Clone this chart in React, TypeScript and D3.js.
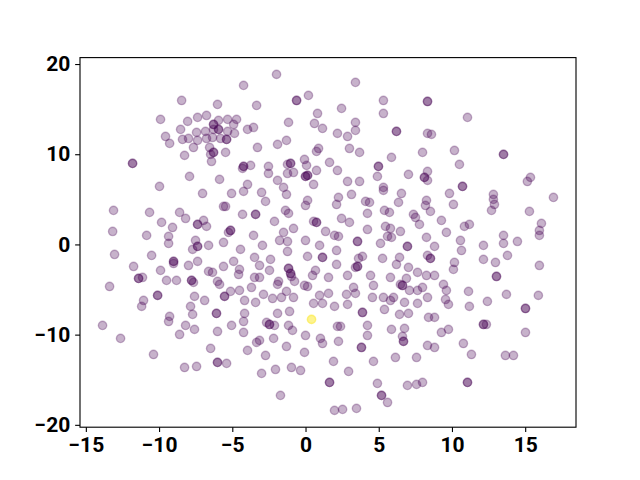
import React, { useRef, useEffect } from 'react';
import * as d3 from 'd3';

// points (class 0, purple); pairs repeated where the dot looks darker
const purplePoints: [number, number][] = [
  [-8.46, 15.96], [-9.9, 13.86], [-8.05, 13.64], [-7.37, 14.08], [-8.53, 12.75], [-9.56, 11.97],
  [-9.28, 11.2], [-7.99, 11.75], [-8.4, 11.64], [-7.44, 12.42], [-7.37, 11.53], [-7.65, 10.75],
  [-8.26, 9.87], [-11.81, 8.98], [-11.81, 8.98], [-7.92, 7.54], [-9.97, 6.43],

  [-1.98, 18.85], [-4.23, 17.63], [-0.61, 15.96], [-0.61, 15.96], [0.2, 16.52], [-6.01, 15.52],
  [-3.34, 15.41], [0.82, 14.52], [-6.76, 14.3], [0.61, 13.41], [1.16, 12.86], [-1.16, 13.53],
  [-5.94, 13.75], [-5.32, 13.86], [-4.71, 13.86], [-4.91, 13.3], [-6.28, 13.3], [-6.28, 13.3],
  [-5.94, 12.75], [-5.94, 12.75], [-5.32, 12.53], [-4.85, 12.31], [-6.28, 12.75], [-6.83, 12.53],
  [-6.76, 11.75], [-6.35, 11.86], [-5.8, 11.75], [-5.39, 11.64], [-5.39, 11.64], [-3.96, 12.75],
  [-3.55, 12.97], [-1.3, 11.53], [-1.91, 11.09], [-3.28, 10.75], [0.89, 10.64], [0.75, 10.31],
  [-6.55, 10.75], [-6.28, 10.2], [-6.28, 10.2], [-6.48, 9.98], [-5.46, 10.2], [-6.42, 9.2],
  [-3.75, 8.76], [-4.23, 8.65], [-4.23, 8.65], [-4.3, 8.43], [-2.53, 8.65], [-2.53, 7.87],
  [-1.23, 8.87], [-1.02, 8.98], [-1.02, 8.98], [-1.23, 7.87], [-0.82, 7.98], [-0.07, 9.42],
  [0.07, 8.76], [0.14, 7.65], [0.14, 7.65], [0.0, 7.54], [0.0, 7.54], [0.75, 8.2], [1.64, 9.09],
  [-5.87, 7.21], [-1.91, 7.1], [-3.96, 6.65], [0.55, 6.65], [-1.5, 6.32],

  [3.41, 17.96], [5.32, 15.96], [8.33, 15.85], [8.33, 15.85], [2.46, 15.08], [5.32, 14.52],
  [3.41, 13.53], [3.41, 12.64], [2.18, 12.31], [2.87, 11.97], [6.21, 12.53], [6.21, 12.53],
  [8.33, 12.31], [8.6, 12.2], [3.0, 10.64], [3.69, 10.2], [5.87, 9.65], [7.99, 10.2], [2.18, 8.2],
  [4.98, 8.65], [4.98, 8.65], [4.91, 7.54], [7.03, 7.76], [8.33, 8.09], [8.12, 7.43], [8.12, 7.43],
  [8.33, 7.1], [2.87, 6.98], [3.69, 6.98], [5.32, 6.32],

  [11.06, 14.08], [10.17, 10.42], [13.52, 9.98], [13.52, 9.98], [10.51, 8.87], [15.36, 7.43],
  [15.15, 6.98], [10.72, 6.43], [10.72, 6.43],

  [-7.03, 5.65], [-13.11, 3.77], [-10.65, 3.55], [-8.6, 3.55], [-8.19, 2.88], [-9.83, 2.44],
  [-9.08, 1.88], [-7.37, 2.22], [-7.37, 2.22], [-13.17, 1.44], [-10.85, 1.0], [-9.35, 0.89],
  [-9.35, 0.11], [-7.51, 0.44], [-7.37, -0.22], [-7.37, -0.22], [-7.71, -0.55], [-6.62, -0.11],
  [-13.04, -1.11], [-10.51, -1.22], [-9.01, -1.88], [-9.01, -1.88], [-9.01, -2.11], [-7.99, -2.33],
  [-7.37, -1.88], [-11.74, -2.44], [-9.9, -2.88], [-11.4, -3.77], [-11.4, -3.77], [-11.13, -3.66],
  [-9.49, -3.99], [-8.81, -3.99], [-7.78, -3.99], [-7.78, -3.99], [-7.65, -4.21], [-6.62, -2.99],
  [-13.38, -4.66], [-10.1, -5.65], [-10.1, -5.65], [-7.58, -5.76], [-6.89, -6.21], [-11.06, -6.21],
  [-11.19, -6.87], [-7.85, -6.87],

  [-5.05, 5.65], [-4.23, 5.88], [-3.0, 5.76], [-1.3, 5.54], [-2.73, 4.77], [0.14, 4.88], [0.0, 4.32],
  [-5.6, 4.21], [-5.46, 4.21], [-4.3, 3.33], [-3.41, 3.33], [-3.41, 3.33], [-1.37, 3.77], [-1.16, 3.44],
  [-6.96, 2.66], [-6.76, 2.0], [-2.12, 2.55], [-0.82, 1.77], [0.55, 2.55], [0.75, 2.44], [0.75, 2.44],
  [1.37, 1.44], [-5.12, 1.55], [-5.12, 1.55], [-5.26, 1.33], [-3.55, 1.0], [-1.5, 1.33], [-1.77, 0.44],
  [-1.23, 0.33], [0.0, 0.44], [-5.6, 0.22], [-2.94, -0.11], [0.96, -0.11], [-4.44, -0.55],
  [-1.23, -0.78], [-3.48, -1.44], [-2.39, -1.66], [0.14, -1.33], [1.16, -1.44], [1.16, -1.44],
  [-4.91, -1.88], [-5.6, -2.44], [-3.14, -2.33], [-1.16, -2.66], [-1.16, -2.66], [-1.02, -3.22],
  [-1.02, -3.22], [-0.96, -3.55], [0.68, -2.88], [0.48, -3.44], [-6.35, -3.1], [-4.51, -2.77],
  [-4.57, -3.33], [-2.46, -2.88], [1.57, -3.66], [-3.48, -3.66], [-3.14, -3.66], [-1.84, -4.1],
  [-1.91, -4.43], [-6.01, -4.1], [-5.87, -4.43], [-0.75, -4.1], [-3.69, -4.77], [-0.07, -4.55],
  [0.14, -4.66], [-4.51, -5.1], [-5.12, -5.21], [-1.3, -5.21], [-5.53, -5.76], [-5.53, -5.76],
  [-2.87, -5.54], [-4.16, -6.21], [-3.41, -6.43], [-2.25, -5.99], [-1.64, -5.88], [-0.82, -5.88],
  [0.96, -5.65], [1.57, -5.43], [0.55, -6.54], [1.16, -6.54],

  [2.25, 5.21], [2.12, 4.43], [3.14, 5.54], [5.32, 5.99], [6.55, 5.65], [6.35, 4.66], [4.1, 4.77],
  [4.37, 4.66], [8.26, 4.88], [8.19, 4.32], [4.23, 3.44], [5.39, 3.77], [5.73, 3.55], [7.37, 3.33],
  [7.51, 2.99], [8.53, 3.66], [2.46, 2.88], [3.0, 2.44], [7.78, 2.22], [9.28, 2.66], [1.98, 1.0],
  [2.25, 0.89], [4.23, 1.66], [5.46, 2.0], [5.8, 1.77], [6.48, 1.44], [5.6, 0.89], [5.87, 0.78],
  [3.55, 0.33], [3.55, 0.33], [5.12, 0.11], [6.96, -0.22], [6.96, -0.22], [8.26, 0.78], [9.62, 1.33],
  [2.12, -0.67], [8.81, -0.22], [3.89, -1.33], [3.62, -1.55], [3.55, -2.44], [3.55, -2.44],
  [3.41, -2.55], [5.26, -1.55], [6.42, -1.44], [6.21, -2.22], [8.33, -1.22], [8.53, -1.55],
  [8.53, -1.55], [2.12, -2.22], [7.03, -2.55], [7.65, -3.1], [2.87, -3.44], [4.44, -3.44],
  [5.8, -3.66], [6.89, -3.77], [8.26, -3.44], [8.81, -3.44], [4.64, -4.55], [6.48, -4.43],
  [6.62, -4.55], [6.62, -4.55], [7.1, -5.1], [7.65, -5.1], [7.99, -4.77], [9.42, -4.43], [3.28, -4.77],
  [3.41, -5.43], [2.8, -5.54], [9.62, -5.1], [4.57, -5.88], [5.32, -5.88], [5.8, -6.21], [6.01, -5.88],
  [6.76, -6.43], [8.33, -5.88], [9.56, -6.1], [1.98, -6.87], [2.87, -6.65], [7.65, -6.54],

  [9.83, 5.65], [10.1, 4.43], [12.83, 5.54], [12.83, 4.99], [12.9, 4.43], [12.7, 3.77], [16.93, 5.21],
  [15.29, 3.66], [10.85, 2.0], [11.19, 2.22], [10.58, 0.44], [10.65, -0.67], [12.15, -0.11],
  [13.52, 1.0], [13.52, 0.11], [14.47, 0.33], [16.11, 2.33], [15.97, 1.55], [15.97, 1.0],
  [13.79, -1.22], [12.15, -1.66], [12.97, -2.0], [10.17, -2.0], [10.1, -2.77], [15.97, -2.33],
  [13.04, -3.55], [13.04, -3.55], [11.13, -5.21], [13.72, -5.54], [15.9, -5.65], [12.42, -6.32],
  [9.76, -6.65], [11.19, -6.87], [15.02, -7.1], [15.02, -7.1],

  [-7.71, -7.76], [-9.28, -7.98], [-9.35, -8.54], [-13.86, -8.98], [-8.19, -8.98], [-8.6, -9.98],
  [-7.58, -9.42], [-12.63, -10.42], [-6.48, -11.53], [-10.38, -12.2], [-8.26, -13.64], [-7.44, -13.53],

  [-6.08, -7.65], [-6.08, -7.65], [-4.16, -7.65], [-1.91, -7.65], [-1.09, -7.43], [-5.05, -8.98],
  [-4.23, -8.54], [-2.66, -8.65], [-2.46, -8.87], [-2.46, -8.87], [-2.12, -8.98], [-1.16, -8.98],
  [-0.89, -9.53], [-6.01, -9.65], [-4.23, -9.76], [-3.14, -10.64], [-3.34, -10.86], [-2.18, -10.42],
  [0.0, -10.09], [1.02, -10.42], [1.16, -10.98], [-3.96, -11.75], [-1.3, -11.31], [-0.07, -11.97],
  [-2.73, -12.31], [-6.01, -13.08], [-6.01, -13.08], [-5.39, -13.19], [-3.0, -14.3], [-2.05, -13.86],
  [-0.96, -13.64], [-0.34, -13.97], [1.64, -15.3], [1.64, -15.3], [-1.71, -16.74],

  [3.89, -7.54], [3.89, -7.54], [5.39, -7.21], [6.42, -7.76], [7.03, -7.65], [8.4, -8.09], [8.81, -8.09],
  [2.18, -9.09], [2.39, -9.09], [4.23, -8.98], [4.23, -10.09], [5.87, -9.42], [6.76, -9.31],
  [6.62, -10.2], [6.69, -10.75], [6.69, -10.75], [9.28, -9.76], [9.76, -9.42], [2.25, -10.75],
  [3.82, -11.42], [3.82, -11.42], [8.33, -11.2], [8.81, -11.42], [1.91, -12.97], [4.64, -12.97],
  [6.14, -12.53], [7.58, -12.53], [2.94, -14.08], [4.91, -15.41], [6.96, -15.63], [7.58, -15.52],
  [7.99, -15.3], [5.19, -16.74], [5.19, -16.74], [5.6, -17.52], [1.98, -18.4], [2.53, -18.29],
  [3.48, -18.18],

  [12.15, -8.87], [12.15, -8.87], [12.35, -8.87], [15.02, -9.76], [10.78, -10.98], [11.33, -12.2],
  [13.65, -12.31], [14.2, -12.31], [11.06, -15.3], [11.06, -15.3],
];

// the class-1 point (yellow), drawn twice as it looks more saturated
const yellowPoints: [number, number][] = [[0.41, -8.31], [0.41, -8.31]];

const xTicks = [-15, -10, -5, 0, 5, 10, 15];
const yTicks = [-20, -10, 0, 10, 20];

const ScatterChart = () => {
  const svgRef = useRef<SVGSVGElement>(null);

  useEffect(() => {
    const width = 640;
    const height = 480;
    // matplotlib default subplot box
    const margin = { top: 57.6, right: 64, bottom: 52.8, left: 80 };
    const pt = 100 / 72;

    const svg = d3.select(svgRef.current);
    svg.selectAll('*').remove();
    svg.attr('width', width).attr('height', height);

    svg.append('rect').attr('width', width).attr('height', height).attr('fill', '#fff');

    const all = purplePoints.concat(yellowPoints);
    const [xMin, xMax] = d3.extent(all, d => d[0]) as [number, number];
    const [yMin, yMax] = d3.extent(all, d => d[1]) as [number, number];
    const xPad = (xMax - xMin) * 0.05;
    const yPad = (yMax - yMin) * 0.05;

    const x = d3.scaleLinear()
      .domain([xMin - xPad, xMax + xPad])
      .range([margin.left, width - margin.right]);
    const y = d3.scaleLinear()
      .domain([yMin - yPad, yMax + yPad])
      .range([height - margin.bottom, margin.top]);

    const alpha = 0.3;
    const r = Math.sqrt(36) / 2 * pt;

    const drawPoints = (data: [number, number][], color: string) => {
      svg.append('g')
        .selectAll('circle')
        .data(data)
        .join('circle')
        .attr('cx', d => x(d[0]))
        .attr('cy', d => y(d[1]))
        .attr('r', r)
        .attr('fill', color)
        .attr('fill-opacity', alpha)
        .attr('stroke', color)
        .attr('stroke-opacity', alpha)
        .attr('stroke-width', 1.0 * pt);
    };
    drawPoints(purplePoints, d3.interpolateViridis(0));
    drawPoints(yellowPoints, d3.interpolateViridis(1));

    // frame
    svg.append('rect')
      .attr('x', margin.left)
      .attr('y', margin.top)
      .attr('width', width - margin.left - margin.right)
      .attr('height', height - margin.top - margin.bottom)
      .attr('fill', 'none')
      .attr('stroke', '#000')
      .attr('stroke-width', 0.8 * pt);

    const styleAxis = (g: d3.Selection<SVGGElement, unknown, null, undefined>) => {
      g.select('.domain').remove();
      g.selectAll('.tick line').attr('stroke', '#000').attr('stroke-width', 0.8 * pt);
      g.selectAll('.tick text')
        .attr('fill', '#000')
        .attr('font-family', 'Roboto, "DejaVu Sans", sans-serif')
        .attr('font-weight', 700)
        .attr('font-size', 21);
    };

    svg.append('g')
      .attr('transform', `translate(0,${height - margin.bottom})`)
      .call(d3.axisBottom(x).tickValues(xTicks).tickSize(3.5 * pt).tickPadding(3.5 * pt).tickFormat(d3.format('d')))
      .call(styleAxis);

    svg.append('g')
      .attr('transform', `translate(${margin.left},0)`)
      .call(d3.axisLeft(y).tickValues(yTicks).tickSize(3.5 * pt).tickPadding(3.5 * pt).tickFormat(d3.format('d')))
      .call(styleAxis);
  }, []);

  return <svg ref={svgRef} style={{ position: 'absolute', left: 0, top: 0 }}></svg>;
};

export default function App() {
  return <ScatterChart />;
}
